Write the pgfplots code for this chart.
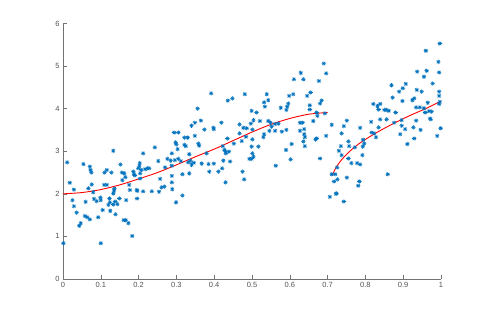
\documentclass[border=0pt]{standalone}
\usepackage{pgfplots}
\pgfplotsset{compat=1.18}
\usepackage{fontspec}
\setmainfont{Liberation Sans}
\definecolor{mblue}{RGB}{0,114,189}
\definecolor{axgray}{RGB}{38,38,38}
\pgfdeclareplotmark{mstar}{%
 \pgfpathmoveto{\pgfqpoint{-\pgfplotmarksize}{0pt}}\pgfpathlineto{\pgfqpoint{\pgfplotmarksize}{0pt}}%
 \pgfpathmoveto{\pgfqpoint{0pt}{-\pgfplotmarksize}}\pgfpathlineto{\pgfqpoint{0pt}{\pgfplotmarksize}}%
 \pgfpathmoveto{\pgfqpoint{-0.707\pgfplotmarksize}{-0.707\pgfplotmarksize}}\pgfpathlineto{\pgfqpoint{0.707\pgfplotmarksize}{0.707\pgfplotmarksize}}%
 \pgfpathmoveto{\pgfqpoint{-0.707\pgfplotmarksize}{0.707\pgfplotmarksize}}\pgfpathlineto{\pgfqpoint{0.707\pgfplotmarksize}{-0.707\pgfplotmarksize}}%
 \pgfusepathqstroke}
\begin{document}
\begin{tikzpicture}
\path (-63pt,-35pt) rectangle (425pt,279pt);
\begin{axis}[
  at={(0,0)}, anchor=south west,
  scale only axis, width=378pt, height=255.5pt,
  xmin=0, xmax=1, ymin=0, ymax=6,
  axis lines*=left,
  axis line style={color=gray!90!black, line width=0.5pt},
  tick style={color=gray!90!black, line width=0.5pt},
  tick align=inside, major tick length=3.8pt,
  xtick={0,0.1,...,1}, ytick={0,1,...,6},
  xticklabels={0,0.1,0.2,0.3,0.4,0.5,0.6,0.7,0.8,0.9,1},
  ticklabel style={font=\fontsize{7.5}{9}\selectfont, color=axgray!80},
  /pgf/number format/assume math mode=true,
  clip=false,
]
\addplot[only marks, mark=mstar, mark size=2.2pt, color=mblue, mark options={line width=0.55pt}] table {
0.001 0.84
0.011 2.74
0.018 2.26
0.029 2.10
0.025 1.85
0.029 1.71
0.036 1.56
0.043 1.25
0.047 1.31
0.054 2.70
0.060 1.81
0.058 1.48
0.064 1.45
0.071 1.40
0.071 2.64
0.073 2.56
0.075 2.50
0.076 2.22
0.067 2.13
0.080 2.04
0.082 1.88
0.089 1.83
0.093 1.45
0.099 1.91
0.100 1.85
0.100 0.84
0.105 1.62
0.110 2.50
0.116 2.56
0.123 1.89
0.125 1.60
0.120 1.74
0.128 2.50
0.109 2.21
0.116 2.21
0.133 3.01
0.133 2.01
0.135 2.07
0.136 2.12
0.124 1.80
0.133 1.75
0.138 1.82
0.139 1.52
0.144 1.76
0.149 1.89
0.152 2.69
0.156 2.50
0.157 2.32
0.161 1.38
0.166 1.38
0.162 2.48
0.165 2.39
0.167 1.85
0.173 1.31
0.175 2.21
0.177 2.09
0.183 1.01
0.186 2.52
0.188 2.46
0.190 2.43
0.196 1.89
0.195 2.09
0.197 2.07
0.199 2.60
0.203 2.72
0.202 2.65
0.204 2.48
0.204 2.36
0.207 2.56
0.212 2.95
0.212 2.06
0.217 2.58
0.223 2.60
0.228 2.60
0.235 2.06
0.243 3.09
0.392 4.36
0.481 4.34
0.436 4.19
0.448 4.24
0.356 4.00
0.499 3.95
0.504 3.73
0.497 3.65
0.340 3.60
0.349 3.67
0.365 3.72
0.374 3.51
0.398 3.55
0.399 3.52
0.419 3.67
0.467 3.63
0.477 3.55
0.486 3.54
0.501 3.51
0.294 3.44
0.305 3.44
0.321 3.32
0.330 3.32
0.298 3.21
0.300 3.16
0.321 3.15
0.325 3.12
0.349 3.36
0.358 3.18
0.360 3.13
0.303 3.05
0.288 2.95
0.334 2.93
0.380 2.95
0.435 3.30
0.452 3.18
0.467 3.42
0.473 3.24
0.484 3.34
0.501 3.28
0.423 3.12
0.427 3.03
0.430 2.99
0.439 2.99
0.431 2.95
0.499 3.11
0.493 2.82
0.499 2.82
0.504 2.87
0.501 2.95
0.252 2.77
0.276 2.82
0.285 2.78
0.296 2.79
0.305 2.82
0.312 2.77
0.331 2.74
0.337 2.78
0.340 2.68
0.346 2.73
0.367 2.71
0.385 2.70
0.399 2.71
0.424 2.78
0.442 2.76
0.270 2.62
0.288 2.66
0.288 2.42
0.257 2.35
0.316 2.46
0.334 2.48
0.387 2.52
0.411 2.52
0.421 2.60
0.475 2.52
0.479 2.34
0.288 2.27
0.289 2.11
0.254 2.05
0.261 2.15
0.268 2.17
0.316 1.96
0.299 1.80
0.430 2.27
0.690 5.06
0.696 4.83
0.629 4.84
0.611 4.69
0.636 4.69
0.677 4.65
0.655 4.38
0.646 4.30
0.539 4.34
0.598 4.30
0.609 4.34
0.543 4.20
0.532 4.15
0.534 4.05
0.596 4.12
0.593 4.05
0.591 3.97
0.576 4.02
0.653 4.08
0.653 3.98
0.680 4.12
0.684 4.19
0.671 3.91
0.673 3.83
0.693 3.89
0.512 3.91
0.521 3.71
0.543 3.71
0.549 3.67
0.561 3.64
0.570 3.65
0.552 3.58
0.561 3.48
0.579 3.46
0.546 3.48
0.532 3.40
0.530 3.33
0.591 3.50
0.627 3.67
0.634 3.67
0.662 3.71
0.627 3.48
0.638 3.52
0.638 3.40
0.640 3.33
0.636 3.23
0.640 3.12
0.668 3.28
0.671 3.30
0.696 3.36
0.711 3.62
0.605 3.17
0.590 3.03
0.517 3.11
0.602 2.81
0.563 2.66
0.680 2.83
0.997 5.53
0.960 5.36
0.993 5.10
0.995 4.85
0.962 4.89
0.937 4.87
0.955 4.75
0.978 4.59
0.907 4.58
0.899 4.48
0.889 4.40
0.869 4.55
0.936 4.44
0.949 4.40
0.995 4.40
0.995 4.30
0.929 4.24
0.924 4.20
0.898 4.18
0.872 4.26
0.997 4.16
0.995 4.11
0.965 4.14
0.944 4.03
0.934 4.03
0.955 4.01
0.968 3.94
0.975 3.93
0.958 3.91
0.971 3.77
0.973 3.75
0.999 3.54
0.990 3.36
0.821 4.11
0.832 4.06
0.839 4.11
0.835 3.98
0.850 3.97
0.856 3.97
0.862 3.95
0.880 3.91
0.839 3.75
0.856 3.75
0.876 3.67
0.896 3.73
0.896 3.60
0.905 3.52
0.927 3.56
0.934 3.72
0.946 3.50
0.929 3.30
0.911 3.17
0.892 3.40
0.815 3.69
0.751 3.72
0.743 3.59
0.737 3.42
0.786 3.55
0.817 3.44
0.823 3.42
0.835 3.56
0.828 3.33
0.794 3.27
0.797 3.18
0.793 3.11
0.772 3.09
0.755 3.23
0.757 3.12
0.735 3.12
0.730 3.01
0.737 2.91
0.792 2.91
0.755 2.83
0.763 2.72
0.778 2.72
0.786 2.69
0.725 2.62
0.711 2.46
0.720 2.46
0.726 2.34
0.717 2.29
0.751 2.38
0.784 2.29
0.781 2.19
0.859 2.46
0.706 1.93
0.722 2.00
0.724 2.01
0.743 1.82
};
\addplot[red, line width=0.9pt, smooth] coordinates {
(0,2.00) (0.05,2.03) (0.1,2.10) (0.15,2.21) (0.2,2.35) (0.25,2.50) (0.3,2.68)
(0.35,2.87) (0.4,3.05) (0.45,3.25) (0.5,3.45) (0.55,3.63) (0.6,3.77) (0.65,3.87) (0.7,3.91)
};
\addplot[red, line width=0.9pt, smooth] coordinates {
(0.712,2.43) (0.72,2.58) (0.73,2.72) (0.745,2.88) (0.765,3.05) (0.79,3.22)
(0.83,3.44) (0.874,3.65) (0.918,3.84) (0.962,4.01) (1.0,4.18)
};
\end{axis}
\end{tikzpicture}
\end{document}
